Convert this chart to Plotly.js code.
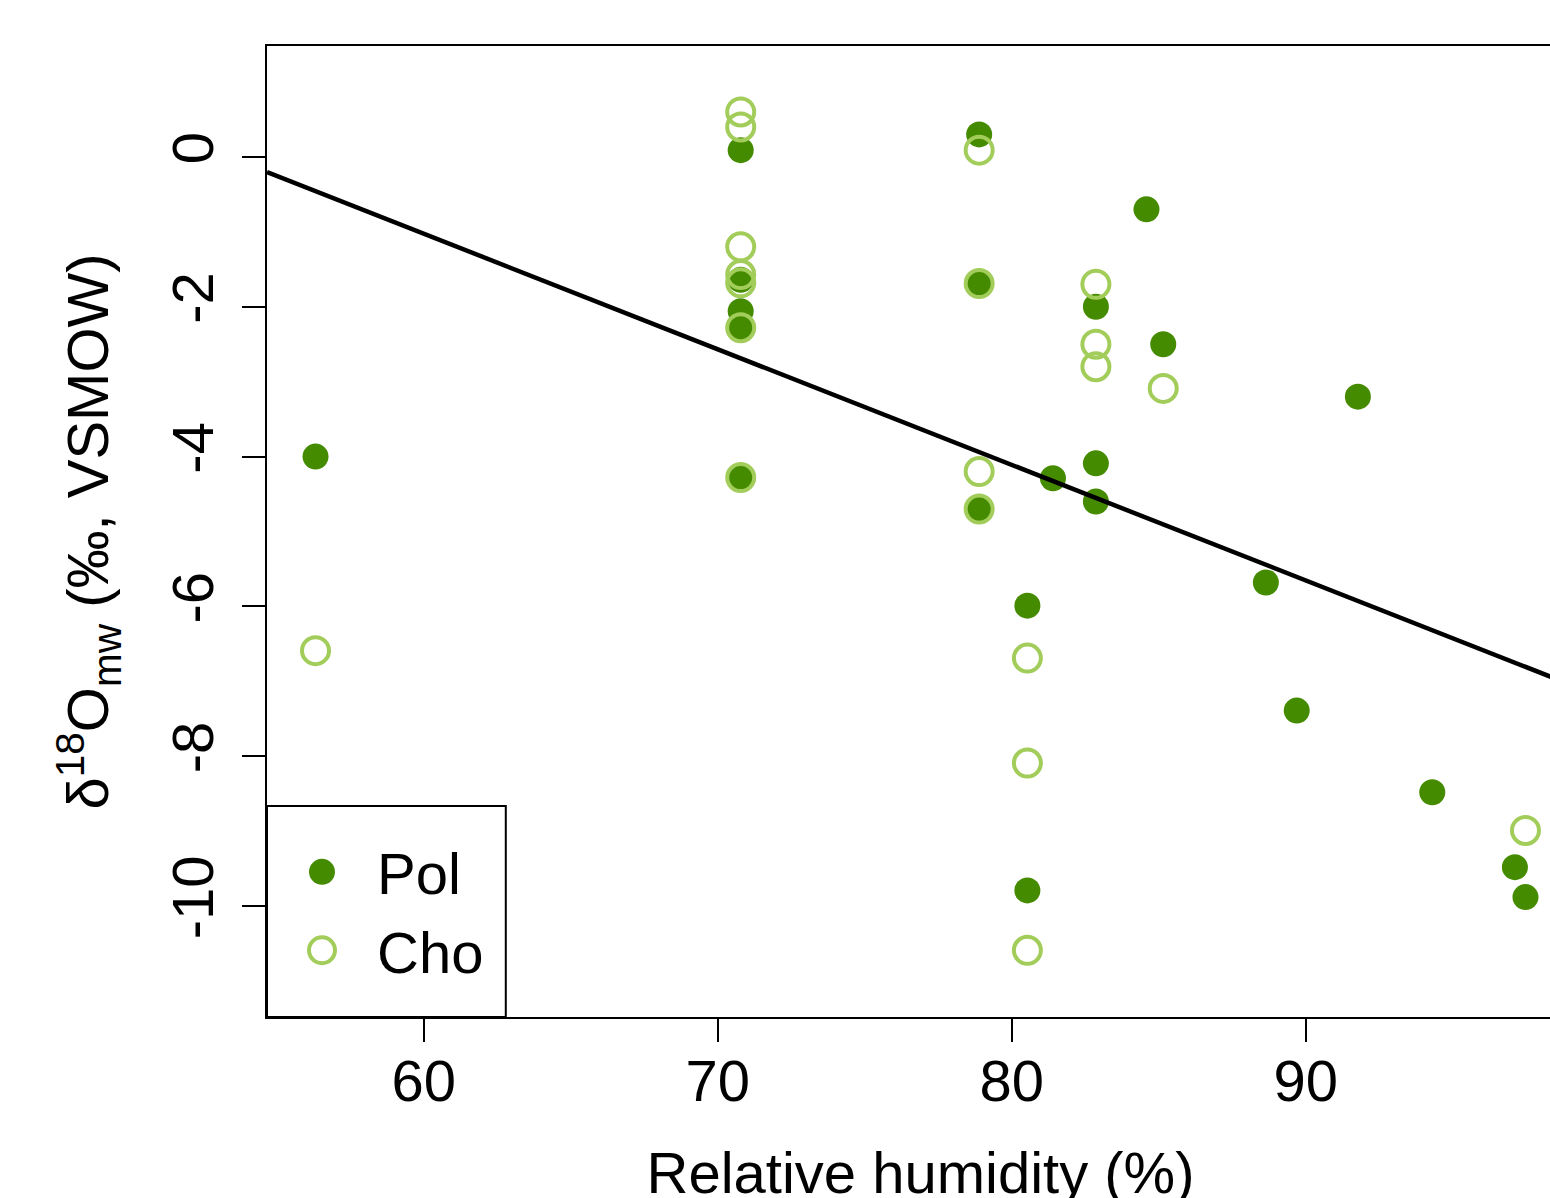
<!DOCTYPE html>
<html>
<head>
<meta charset="utf-8">
<script src="https://cdn.plot.ly/plotly-3.0.1.min.js"></script>
<style>
  html, body { margin: 0; padding: 0; overflow: hidden; background: #fff; }
  #chart { width: 1620px; height: 1260px; }
</style>
</head>
<body>
<div id="chart"></div>
<script>
// Relative humidity (%) and d18O of meteoric water (permil, VSMOW)
const polX = [56.32, 70.78, 70.78, 70.78, 70.78, 70.78, 78.89, 78.89, 78.89, 80.53, 80.53, 81.40,
              82.86, 82.86, 82.86, 84.58, 85.15, 88.64, 89.69, 91.77, 94.30, 97.11, 97.47];
const polY = [-4.00, 0.09, -1.64, -2.06, -2.28, -4.28, 0.30, -1.69, -4.70, -5.99, -9.79, -4.29,
              -2.00, -4.09, -4.60, -0.70, -2.50, -5.68, -7.39, -3.20, -8.48, -9.48, -9.88];

const choX = [56.32, 70.78, 70.78, 70.78, 70.78, 70.78, 70.78, 70.78, 78.89, 78.89, 78.89, 78.89,
              80.53, 80.53, 80.53, 82.86, 82.86, 82.86, 85.15, 97.47];
const choY = [-6.59, 0.60, 0.40, -1.20, -1.57, -1.68, -2.28, -4.28, 0.09, -1.69, -4.20, -4.70,
              -6.69, -8.09, -10.59, -1.70, -2.50, -2.80, -3.09, -8.99];

// Regression line (intercept, slope) drawn across the x range
const fitIntercept = 8.233;
const fitSlope = -0.1543;
const xRange = [54.67, 99.12];
const yRange = [-11.48, 1.48];
const fitX = xRange.slice();
const fitY = fitX.map(x => fitIntercept + fitSlope * x);

const xTicks = [60, 70, 80, 90];
const yTicks = [0, -2, -4, -6, -8, -10];

const FONT = 'Liberation Sans, Arial, Helvetica, sans-serif';
const polColor = '#458B00';
const choColor = '#A2CD5A';

const traces = [
  {
    x: polX, y: polY, type: 'scatter', mode: 'markers', name: 'Pol',
    marker: { symbol: 'circle', size: 26, color: polColor, line: { width: 0 } }
  },
  {
    x: choX, y: choY, type: 'scatter', mode: 'markers', name: 'Cho',
    marker: { symbol: 'circle-open', size: 27, color: choColor, line: { width: 4, color: choColor } }
  },
  {
    x: fitX, y: fitY, type: 'scatter', mode: 'lines', showlegend: false,
    line: { color: '#000', width: 4.5 }, hoverinfo: 'skip'
  }
];

const layout = {
  width: 1620, height: 1260,
  margin: { l: 267, r: 46, t: 46, b: 243 },
  paper_bgcolor: '#fff', plot_bgcolor: '#fff',
  font: { family: FONT, size: 58, color: '#000' },
  showlegend: true,
  xaxis: {
    range: xRange, tickvals: xTicks, ticktext: xTicks.map(String),
    showgrid: false, zeroline: false,
    showline: true, mirror: true, linecolor: '#000', linewidth: 2,
    ticks: 'outside', ticklen: 23, tickwidth: 2, tickcolor: '#000',
    ticklabelstandoff: -11,
    tickfont: { family: FONT, size: 58, color: '#000' },
    title: { text: 'Relative humidity (%)', font: { family: FONT, size: 58, color: '#000' }, standoff: 41 }
  },
  yaxis: {
    range: yRange, tickvals: yTicks, ticktext: yTicks.map(String),
    showgrid: false, zeroline: false,
    showline: true, mirror: true, linecolor: '#000', linewidth: 2,
    ticks: 'outside', ticklen: 23, tickwidth: 2, tickcolor: '#000',
    tickangle: -90, ticklabelstandoff: 6,
    tickfont: { family: FONT, size: 58, color: '#000' },
    title: { text: 'δ<sup>18</sup>O<sub>mw</sub> (‰, VSMOW)', font: { family: FONT, size: 58, color: '#000' }, standoff: 32 }
  },
  shapes: [
    { type: 'rect', xref: 'paper', yref: 'paper', x0: 0, x1: 0.1827, y0: 0, y1: 0.2173,
      line: { color: '#000', width: 2 }, fillcolor: '#fff', layer: 'above' }
  ],
  legend: {
    x: 0, y: 0.109, xanchor: 'left', yanchor: 'middle',
    bgcolor: 'rgba(0,0,0,0)', borderwidth: 0,
    font: { family: FONT, size: 58, color: '#000' },
    itemwidth: 100
  }
};

Plotly.newPlot('chart', traces, layout, { displayModeBar: false, staticPlot: true }).then(function (gd) {
  // enlarge legend symbols to match the plotted symbol size
  gd.querySelectorAll('.legend .legendpoints path').forEach(function (p) {
    const t = p.getAttribute('transform') || '';
    p.setAttribute('transform', t + ' scale(1.625)');
    p.style.vectorEffect = 'non-scaling-stroke';
  });
});
</script>
</body>
</html>
